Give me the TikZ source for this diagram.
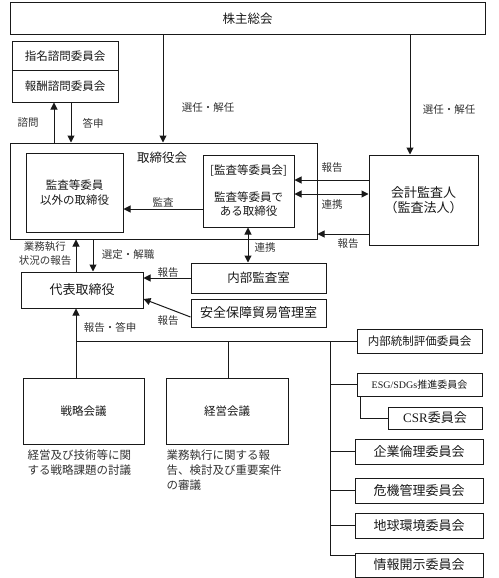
\documentclass[tikz,border=0pt]{standalone}
\usepackage{fontspec}
\newfontfamily\jp{Noto Sans CJK JP}
\newfontfamily\lat{Liberation Serif}
\usetikzlibrary{arrows.meta,calc}
\newcommand{\fs}[1]{\fontsize{#1}{#1}\selectfont}
\begin{document}
\begin{tikzpicture}[x=1pt,y=-1pt,
  box/.style={draw=black!90, line width=1pt, inner sep=0pt, align=center, text=black!90, font=\jp\fs{12}},
  lbl/.style={inner sep=0pt, align=center, text=black!80, font=\jp\fs{10.5}},
  desc/.style={inner sep=0pt, align=left, text=black!80, font=\jp\fontsize{11.5}{15}\selectfont, anchor=north west},
  ln/.style={line width=1pt, draw=black!90},
  arr/.style={ln, -{Triangle[length=7pt,width=7pt]}},
  dbl/.style={ln, {Triangle[length=7pt,width=7pt]}-{Triangle[length=7pt,width=7pt]}}]
\useasboundingbox (0,0) rectangle (498,578);
% ---- boxes
\node[box, font=\jp\fs{12.5}, minimum width=475pt, minimum height=32pt] (kabu) at (247.5,19) {株主総会};
\node[box, font=\jp\fs{11.5}, minimum width=106pt, minimum height=29pt] (shimei) at (65,56.5) {指名諮問委員会};
\node[box, font=\jp\fs{11.5}, minimum width=106pt, minimum height=31pt] (hoshu) at (65,86.5) {報酬諮問委員会};
\node[box, minimum width=307pt, minimum height=96pt] (tori) at (163.5,191) {};
\node[lbl, text=black!90, font=\jp\fs{12.5}] (torilbl) at (162,158) {取締役会};
\node[box, font=\jp\fontsize{11.5}{15}\selectfont, minimum width=97pt, minimum height=79pt] (other) at (74.5,192.5) {監査等委員\\以外の取締役};
\node[box, font=\jp\fontsize{11.5}{14}\selectfont, minimum width=91pt, minimum height=72pt] (kansa) at (248.5,191) {[監査等委員会]\\[13pt]監査等委員で\\ある取締役};
\node[box, font=\jp\fontsize{13}{15}\selectfont, minimum width=109pt, minimum height=90pt] (kaikei) at (423.5,200) {会計監査人\\（監査法人）};
\node[box, font=\jp\fs{13}, minimum width=122pt, minimum height=36pt] (daihyo) at (82,290) {代表取締役};
\node[box, font=\jp\fs{12.5}, minimum width=135pt, minimum height=30pt] (naibu) at (258.5,278) {内部監査室};
\node[box, font=\jp\fs{13}, minimum width=135pt, minimum height=28pt] (anzen) at (258.5,313) {安全保障貿易管理室};
\node[box, font=\jp\fs{11.5}, minimum width=121pt, minimum height=66pt] (senryaku) at (83.5,411) {戦略会議};
\node[box, font=\jp\fs{11.5}, minimum width=122pt, minimum height=66pt] (keiei) at (227,411) {経営会議};
\node[box, font=\jp\fs{11.5}, minimum width=125pt, minimum height=24pt] (naibutosei) at (419.5,341.5) {内部統制評価委員会};
\node[box, font=\jp\fs{10}, minimum width=125pt, minimum height=23pt] (esg) at (419.5,384.5) {{\lat ESG/SDGs}推進委員会};
\node[box, font=\jp\fs{13}, minimum width=94pt, minimum height=22pt] (csr) at (435,418) {{\lat CSR}委員会};
\node[box, font=\jp\fs{13}, minimum width=128pt, minimum height=25pt] (rinri) at (419,451.5) {企業倫理委員会};
\node[box, font=\jp\fs{13}, minimum width=128pt, minimum height=25pt] (kiki) at (419,490.5) {危機管理委員会};
\node[box, font=\jp\fs{13}, minimum width=128pt, minimum height=25pt] (chikyu) at (419,525.5) {地球環境委員会};
\node[box, font=\jp\fs{13}, minimum width=128pt, minimum height=24pt] (joho) at (419,565) {情報開示委員会};
% ---- descriptions
\node[desc] (d1) at ([xshift=5pt,yshift=-5pt]senryaku.south west) {経営及び技術等に関\\する戦略課題の討議};
\node[desc] (d2) at ([xshift=1pt,yshift=-5pt]keiei.south west) {業務執行に関する報\\告、検討及び重要案件\\の審議};
% ---- helper coordinates
\coordinate (c54) at (54,0);   \coordinate (c71) at (71,0);
\coordinate (c76) at (76,0);   \coordinate (c93) at (93,0);
\coordinate (c163) at (163,0); \coordinate (c228) at (228,0);
\coordinate (c248) at (248,0); \coordinate (c410) at (410,0);
\coordinate (r180) at (0,180); \coordinate (r194) at (0,194);
\coordinate (r209) at (0,209); \coordinate (r234) at (0,234);
\coordinate (r299) at (0,299); \coordinate (r317) at (0,317);
\coordinate (j) at (76,341);
\coordinate (t) at (330,341);
\coordinate (tb) at (330,555);
% ---- connectors
\draw[arr] (kabu.south -| c163) -- (tori.north -| c163);
\draw[arr] (kabu.south -| c410) -- (kaikei.north -| c410);
\draw[arr] (tori.north -| c54) -- (hoshu.south -| c54);
\draw[arr] (hoshu.south -| c71) -- (tori.north -| c71);
\draw[arr] (kansa.west |- r209) -- (other.east |- r209);
\draw[arr] (kaikei.west |- r180) -- (kansa.east |- r180);
\draw[dbl] (kansa.east |- r194) -- (kaikei.west |- r194);
\draw[arr] (kaikei.west |- r234) -- (tori.east |- r234);
\draw[dbl] (kansa.south -| c248) -- (naibu.north -| c248);
\draw[arr] (daihyo.north -| c76) -- (tori.south -| c76);
\draw[arr] (tori.south -| c93) -- (daihyo.north -| c93);
\draw[arr] (naibu.west) -- (daihyo.east |- naibu.west);
\draw[arr] (anzen.west |- r317) -- (daihyo.east |- r299);
\draw[arr] (senryaku.north -| j) -- (daihyo.south -| j);
\draw[ln] (j) -- (j -| naibutosei.west);
\draw[ln] (keiei.north -| c228) -- (j -| c228);
\draw[ln] (t) -- (tb) -- (tb -| joho.west);
\draw[ln] (esg.west -| t) -- (esg.west);
\draw[ln] (rinri.west -| t) -- (rinri.west);
\draw[ln] (kiki.west -| t) -- (kiki.west);
\draw[ln] (chikyu.west -| t) -- (chikyu.west);
\draw[ln] ([xshift=4pt]esg.south west) |- (csr.west);
% ---- labels
\node[lbl] (l1) at (28,123) {諮問};
\node[lbl] (l2) at (93,123) {答申};
\node[lbl] (l3) at (208,108) {選任・解任};
\node[lbl] (l4) at (449,110) {選任・解任};
\node[lbl] (l5) at (163,202) {監査};
\node[lbl] (l6) at (332,168) {報告};
\node[lbl] (l7) at (332,205) {連携};
\node[lbl] (l8) at (348,244) {報告};
\node[lbl] (l9) at (265,248) {連携};
\node[lbl, font=\jp\fontsize{10.5}{14.5}\selectfont] (l10) at (45,253.5) {業務執行\\状況の報告};
\node[lbl] (l11) at (128,255) {選定・解職};
\node[lbl] (l12) at (168,273) {報告};
\node[lbl] (l13) at (168,321) {報告};
\node[lbl] (l14) at (110,327) {報告・答申};
\end{tikzpicture}
\end{document}
